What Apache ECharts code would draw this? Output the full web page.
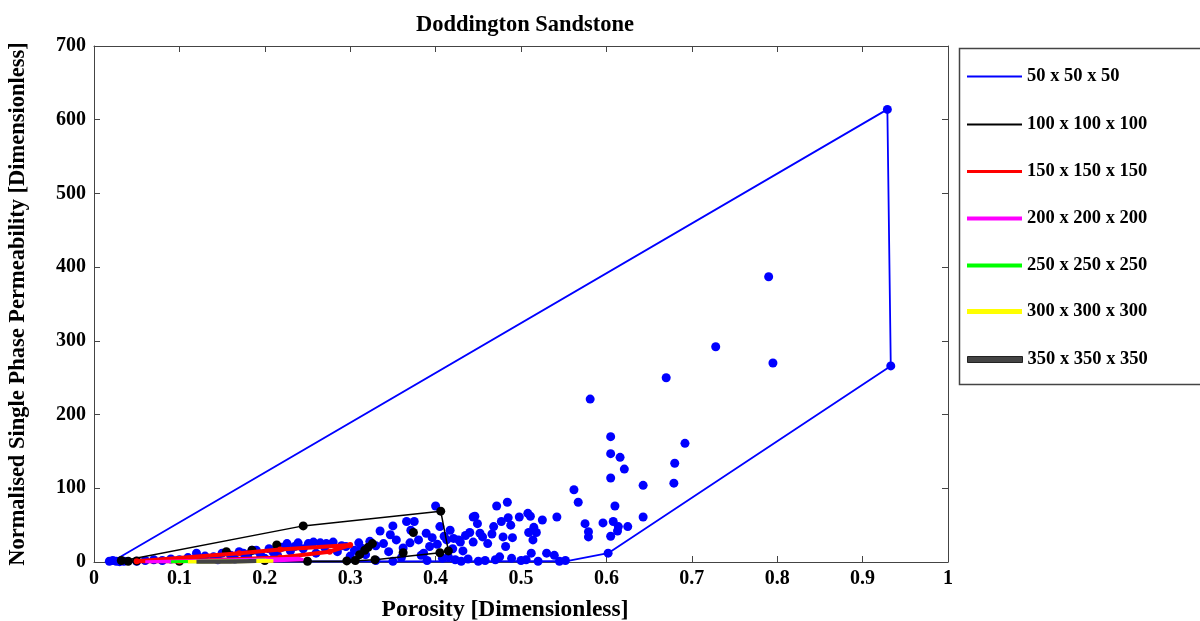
<!DOCTYPE html>
<html>
<head>
<meta charset="utf-8">
<title>Doddington Sandstone</title>
<script src="https://cdn.jsdelivr.net/npm/echarts@6/dist/echarts.min.js"></script>
<style>
  html, body { margin: 0; padding: 0; background: #fff; }
  #main { width: 1200px; height: 621px; }
</style>
</head>
<body>
<div id="main"></div>
<script>
  // series names / colours
  var names = ['50 x 50 x 50', '100 x 100 x 100', '150 x 150 x 150', '200 x 200 x 200',
               '250 x 250 x 250', '300 x 300 x 300', '350 x 350 x 350'];
  var colors = ['#0000ff', '#000000', '#ff0000', '#ff00ff', '#00ff00', '#ffff00', '#444444'];

  var xTicks = [0, 0.1, 0.2, 0.3, 0.4, 0.5, 0.6, 0.7, 0.8, 0.9, 1];
  var yTicks = [0, 100, 200, 300, 400, 500, 600, 700];

  // 50 x 50 x 50 sub-volumes  [porosity, permeability]
  var pts50 = [
    [0.018,1],[0.022,2],[0.026,1],[0.03,0.5],[0.035,1],
    [0.05,1],[0.06,2],[0.07,3],[0.08,2],[0.09,4],[0.1,3],[0.11,6],[0.12,12],[0.125,5],
    [0.13,8],[0.14,7],[0.145,3],[0.15,12],[0.16,9],[0.165,4],[0.17,14],[0.175,12],[0.18,8],
    [0.185,16],[0.19,16],[0.195,10],[0.2,5],[0.205,18],[0.21,13],[0.215,9],[0.22,20],
    [0.226,25],[0.23,15],[0.235,21],[0.239,26],[0.245,18],[0.251,25],[0.257,27],[0.26,12],
    [0.265,26],[0.27,20],[0.272,25],[0.28,27],[0.285,14],[0.29,22],[0.295,21],[0.3,8],
    [0.305,16],[0.31,26],[0.313,19],[0.318,10],[0.323,28],[0.33,22],[0.33,2],[0.335,42],
    [0.339,25],[0.345,14],[0.347,37],[0.35,49],[0.35,1],[0.354,30],[0.36,6],[0.362,19],
    [0.366,55],[0.37,26],[0.371,43],[0.375,55],[0.38,30],[0.383,9],[0.386,12],[0.389,39],
    [0.39,2],[0.393,21],[0.396,33],[0.4,76],[0.402,24],[0.405,48],[0.408,5],[0.41,35],
    [0.413,30],[0.415,7],[0.417,43],[0.42,18],[0.421,32],[0.423,3],[0.427,30],[0.429,27],
    [0.43,1],[0.432,15],[0.435,36],[0.438,4],[0.44,40],[0.444,27],[0.444,61],[0.446,62],
    [0.449,52],[0.45,1],[0.452,39],[0.455,34],[0.458,2],[0.461,25],[0.466,38],[0.468,48],
    [0.47,3],[0.4715,76],[0.475,7],[0.477,55],[0.479,34],[0.482,21],[0.484,81],[0.485,60],
    [0.488,50],[0.489,5],[0.49,33],[0.498,61],[0.5,2],[0.506,3],[0.508,66],[0.509,40],
    [0.511,62],[0.512,12],[0.514,30],[0.515,47],[0.518,40],[0.52,1],[0.525,57],[0.53,12],
    [0.539,9],[0.542,61],[0.545,1],[0.552,2],[0.562,98],[0.567,81],[0.575,52],[0.579,41],
    [0.579,34],[0.581,221],[0.596,53],[0.602,12],[0.605,170],[0.605,147],[0.605,114],
    [0.605,35],[0.608,55],[0.61,76],[0.613,42],[0.614,48],[0.616,142],[0.621,126],
    [0.625,48],[0.643,104],[0.643,61],[0.67,250],[0.679,107],[0.68,134],[0.692,161],
    [0.728,292],[0.79,387],[0.795,270],[0.929,614],[0.933,266]
  ];
  var hull50 = [[0.022,1],[0.929,614],[0.933,266],[0.602,12],[0.552,1],[0.022,0.5],[0.022,1]];

  // 100 x 100 x 100
  var pts100 = [
    [0.032,2],[0.04,1],[0.05,1.5],[0.1,1],[0.155,14],[0.185,16],[0.2,2],[0.214,23],
    [0.245,49],[0.25,1],[0.296,1.5],[0.306,2],[0.311,10],[0.317,16],[0.321,20],[0.326,25],
    [0.329,3],[0.362,12.6],[0.374,40],[0.405,12.6],[0.406,69],[0.415,15]
  ];
  var hull100 = [[0.032,1.5],[0.245,49],[0.406,69],[0.415,15],[0.405,12.6],[0.329,3],[0.296,1],[0.032,1.5]];

  // 150 x 150 x 150
  var pts150 = [[0.05,1],[0.17,12],[0.218,17],[0.3,23],[0.276,14],[0.218,6],[0.1,1]];
  var hull150 = [[0.05,1],[0.17,12],[0.218,17],[0.3,23],[0.276,14],[0.218,6],[0.1,1],[0.05,1]];

  // 200 .. 350
  var hull200 = [[0.06,0.5],[0.2,4],[0.24,5],[0.245,3],[0.2,1],[0.06,0.5]];
  var hull250 = [[0.09,0.3],[0.2,2.5],[0.13,0.3],[0.09,0.3]];
  var hull300 = [[0.11,0.5],[0.2,2],[0.21,1.5],[0.15,0.3],[0.11,0.5]];
  var hull350 = [[0.12,0.5],[0.19,1.5],[0.16,0.5],[0.12,0.5]];

  var hulls = [hull50, hull100, hull150, hull200, hull250, hull300, hull350];
  var hullWidth = [1.8, 1.5, 4, 3, 3, 3.5, 4];
  var legendThick = [2, 2, 3, 4, 4, 5, 6];

  var fontFam = '"Liberation Serif", "Times New Roman", serif';

  var series = [];
  for (var i = 0; i < names.length; i++) {
    series.push({
      name: names[i],
      type: 'line',
      data: hulls[i],
      showSymbol: false,
      color: colors[i],
      lineStyle: { color: colors[i], width: hullWidth[i] },
      z: 2 + i
    });
    if (i === 0) {
      series.push({ name: names[0], type: 'scatter', data: pts50, symbolSize: 9,
        color: colors[0], itemStyle: { color: colors[0], opacity: 1 }, z: 2 });
    }
    if (i === 1) {
      series.push({ name: names[1], type: 'scatter', data: pts100, symbolSize: 9,
        color: colors[1], itemStyle: { color: colors[1], opacity: 1 }, z: 3 });
    }
    if (i === 2) {
      series.push({ name: names[2], type: 'scatter', data: pts150, symbolSize: 6,
        color: colors[2], itemStyle: { color: colors[2], opacity: 1 }, z: 4 });
    }
  }

  var legendCenters = [72, 120, 167, 214, 261, 307, 355];
  var legends = names.map(function (n, i) {
    return {
      left: 962,
      top: legendCenters[i] - 10,
      icon: 'rect',
      itemWidth: 55,
      itemHeight: legendThick[i],
      selectedMode: false,
      data: [n],
      itemStyle: i === 6 ? { borderColor: '#222', borderWidth: 1 } : {},
      textStyle: { fontFamily: fontFam, fontWeight: 'bold', fontSize: 18.5, color: '#000' }
    };
  });

  var axisLineStyle = { color: '#444', width: 1 };

  var chart = echarts.init(document.getElementById('main'));
  chart.setOption({
    animation: false,
    backgroundColor: '#fff',
    title: {
      text: 'Doddington Sandstone',
      left: 520,
      top: 9,
      textAlign: 'center',
      textStyle: { fontFamily: fontFam, fontWeight: 'bold', fontSize: 22.5, color: '#000' }
    },
    legend: legends,
    graphic: [{
      type: 'rect',
      left: 957, top: 46,
      shape: { width: 260, height: 336 },
      style: { fill: 'none', stroke: '#444', lineWidth: 1.5 },
      silent: true
    }],
    grid: { left: 94, right: 252, top: 46, bottom: 59, containLabel: false, outerBoundsMode: 'none' },
    xAxis: [{
      type: 'value', min: 0, max: 1, interval: 0.1,
      name: 'Porosity [Dimensionless]', nameLocation: 'middle', nameGap: 36,
      nameTextStyle: { fontFamily: fontFam, fontWeight: 'bold', fontSize: 23.5, color: '#000',
        padding: [0, 32, 0, 0] },
      axisLine: { show: true, onZero: false, lineStyle: axisLineStyle },
      axisTick: { show: true, inside: true, length: 6, lineStyle: axisLineStyle },
      splitLine: { show: false },
      axisLabel: {
        margin: 7, fontFamily: fontFam, fontWeight: 'bold', fontSize: 20, color: '#000',
        formatter: function (v) { return String(+v.toFixed(1)); }
      }
    }, {
      type: 'value', min: 0, max: 1, interval: 0.1, position: 'top',
      axisLine: { show: true, onZero: false, lineStyle: axisLineStyle },
      axisTick: { show: true, inside: true, length: 6, lineStyle: axisLineStyle },
      axisLabel: { show: false },
      splitLine: { show: false }
    }],
    yAxis: [{
      type: 'value', min: 0, max: 700, interval: 100,
      name: 'Normalised Single Phase Permeability [Dimensionless]',
      nameLocation: 'middle', nameGap: 64,
      nameTextStyle: { fontFamily: fontFam, fontWeight: 'bold', fontSize: 22.5, color: '#000' },
      axisLine: { show: true, onZero: false, lineStyle: axisLineStyle },
      axisTick: { show: true, inside: true, length: 6, lineStyle: axisLineStyle },
      splitLine: { show: false },
      axisLabel: { margin: 8, fontFamily: fontFam, fontWeight: 'bold', fontSize: 20, color: '#000' }
    }, {
      type: 'value', min: 0, max: 700, interval: 100, position: 'right',
      axisLine: { show: true, onZero: false, lineStyle: axisLineStyle },
      axisTick: { show: true, inside: true, length: 6, lineStyle: axisLineStyle },
      axisLabel: { show: false },
      splitLine: { show: false }
    }],
    series: series
  });
</script>
</body>
</html>
